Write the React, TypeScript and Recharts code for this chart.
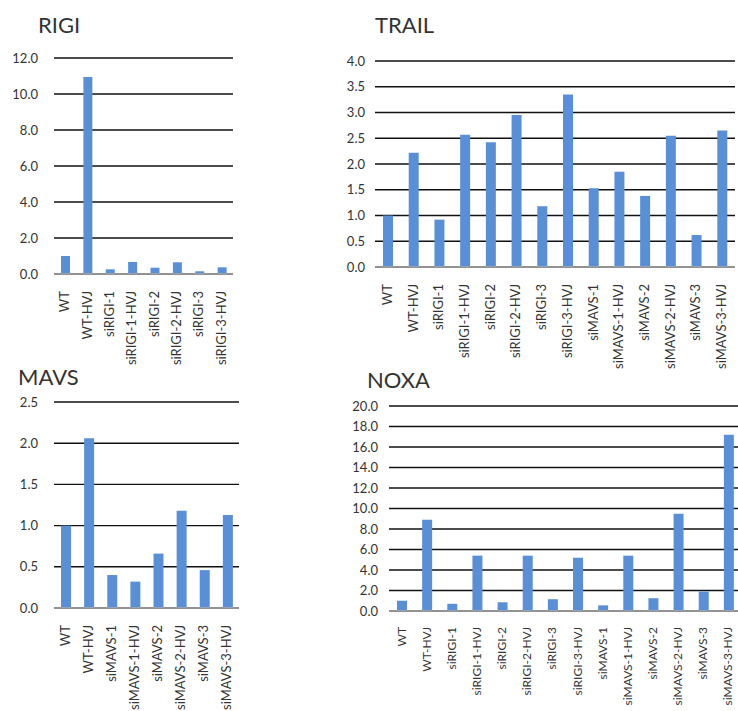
import { BarChart, Bar, XAxis, YAxis, CartesianGrid } from 'recharts';

const rigiCategories = ['WT', 'WT-HVJ', 'siRIGI-1', 'siRIGI-1-HVJ', 'siRIGI-2', 'siRIGI-2-HVJ', 'siRIGI-3', 'siRIGI-3-HVJ'];
const rigiValues = [1.0, 10.95, 0.26, 0.67, 0.35, 0.65, 0.15, 0.37];
const rigiTicks = [0, 2, 4, 6, 8, 10, 12];

const fullCategories = [
  'WT', 'WT-HVJ', 'siRIGI-1', 'siRIGI-1-HVJ', 'siRIGI-2', 'siRIGI-2-HVJ', 'siRIGI-3', 'siRIGI-3-HVJ',
  'siMAVS-1', 'siMAVS-1-HVJ', 'siMAVS-2', 'siMAVS-2-HVJ', 'siMAVS-3', 'siMAVS-3-HVJ',
];
const trailValues = [1.0, 2.22, 0.92, 2.57, 2.42, 2.95, 1.18, 3.35, 1.53, 1.85, 1.38, 2.55, 0.62, 2.65];
const trailTicks = [0, 0.5, 1, 1.5, 2, 2.5, 3, 3.5, 4];

const mavsCategories = ['WT', 'WT-HVJ', 'siMAVS-1', 'siMAVS-1-HVJ', 'siMAVS-2', 'siMAVS-2-HVJ', 'siMAVS-3', 'siMAVS-3-HVJ'];
const mavsValues = [1.0, 2.06, 0.4, 0.32, 0.66, 1.18, 0.46, 1.13];
const mavsTicks = [0, 0.5, 1, 1.5, 2, 2.5];

const noxaValues = [1.0, 8.9, 0.7, 5.4, 0.85, 5.4, 1.15, 5.2, 0.55, 5.4, 1.25, 9.5, 1.9, 17.2];
const noxaTicks = [0, 2, 4, 6, 8, 10, 12, 14, 16, 18, 20];

const FONT = 'Lato, "Noto Sans", sans-serif';
const BAR = '#5b8fd5';

const RotatedTick = (props: any) => {
  const { x, y, payload, size = 13, gap = 9 } = props;
  return (
    <text
      x={0}
      y={0}
      transform={`translate(${x + 4},${y + gap}) rotate(-90)`}
      textAnchor="end"
      fill="#333"
      fontSize={size}
      fontFamily={FONT}
    >
      {payload.value}
    </text>
  );
};

type PanelProps = {
  title: string;
  titleX: number;
  titleY: number;
  left: number;
  top: number;
  width: number;
  height: number;
  categories: string[];
  values: number[];
  ticks: number[];
  margin: { top: number; right: number; bottom: number; left: number };
  yWidth: number;
  yGap: number;
  xHeight: number;
  barSize: number;
  labelSize?: number;
  labelGap?: number;
};

function Panel(p: PanelProps) {
  const data = p.categories.map((name, i) => ({ name, value: p.values[i] }));
  return (
    <div style={{ position: 'absolute', left: p.left, top: p.top, width: p.width, height: p.height }}>
      <div
        style={{
          position: 'absolute',
          left: p.titleX,
          top: p.titleY,
          fontFamily: FONT,
          fontSize: 22,
          color: '#333',
          lineHeight: 1,
        }}
      >
        {p.title}
      </div>
      <BarChart width={p.width} height={p.height} data={data} margin={p.margin} barCategoryGap={0}>
        <CartesianGrid vertical={false} stroke="#111" strokeWidth={1.4} />
        <XAxis
          dataKey="name"
          interval={0}
          tick={<RotatedTick size={p.labelSize ?? 13} gap={p.labelGap ?? 9} />}
          tickLine={false}
          axisLine={{ stroke: '#aaa', strokeWidth: 1.4 }}
          height={p.xHeight}
        />
        <YAxis
          domain={[p.ticks[0], p.ticks[p.ticks.length - 1]]}
          ticks={p.ticks}
          interval={0}
          tickFormatter={(v: number) => v.toFixed(1)}
          axisLine={false}
          tickLine={false}
          tickSize={0}
          tickMargin={p.yGap}
          width={p.yWidth}
          tick={{ fill: '#333', fontSize: 13, fontFamily: FONT }}
        />
        <Bar dataKey="value" fill={BAR} barSize={p.barSize} isAnimationActive={false} />
      </BarChart>
    </div>
  );
}

export default function App() {
  return (
    <div style={{ position: 'absolute', left: 0, top: 0, width: 738, height: 711, overflow: 'hidden', background: '#fff' }}>
      <Panel
        title="RIGI"
        titleX={38}
        titleY={14}
        left={0}
        top={0}
        width={240}
        height={372}
        categories={rigiCategories}
        values={rigiValues}
        ticks={rigiTicks}
        margin={{ top: 58, right: 7, bottom: 0, left: 0 }}
        yWidth={54}
        yGap={16}
        xHeight={98}
        barSize={9}
      />
      <Panel
        title="TRAIL"
        titleX={45}
        titleY={14}
        left={330}
        top={0}
        width={408}
        height={372}
        categories={fullCategories}
        values={trailValues}
        ticks={trailTicks}
        margin={{ top: 61, right: 3, bottom: 0, left: 0 }}
        yWidth={45}
        yGap={10}
        xHeight={105}
        barSize={10}
      />
      <Panel
        title="MAVS"
        titleX={18}
        titleY={6}
        left={0}
        top={360}
        width={250}
        height={351}
        categories={mavsCategories}
        values={mavsValues}
        ticks={mavsTicks}
        margin={{ top: 42, right: 11, bottom: 0, left: 0 }}
        yWidth={54}
        yGap={16}
        xHeight={103}
        barSize={10}
      />
      <Panel
        title="NOXA"
        titleX={37}
        titleY={9}
        left={330}
        top={360}
        width={420}
        height={351}
        categories={fullCategories}
        values={noxaValues}
        ticks={noxaTicks}
        margin={{ top: 46, right: 9, bottom: 0, left: 0 }}
        yWidth={59}
        yGap={11}
        xHeight={100}
        barSize={10}
        labelSize={12}
        labelGap={8}
      />
    </div>
  );
}
